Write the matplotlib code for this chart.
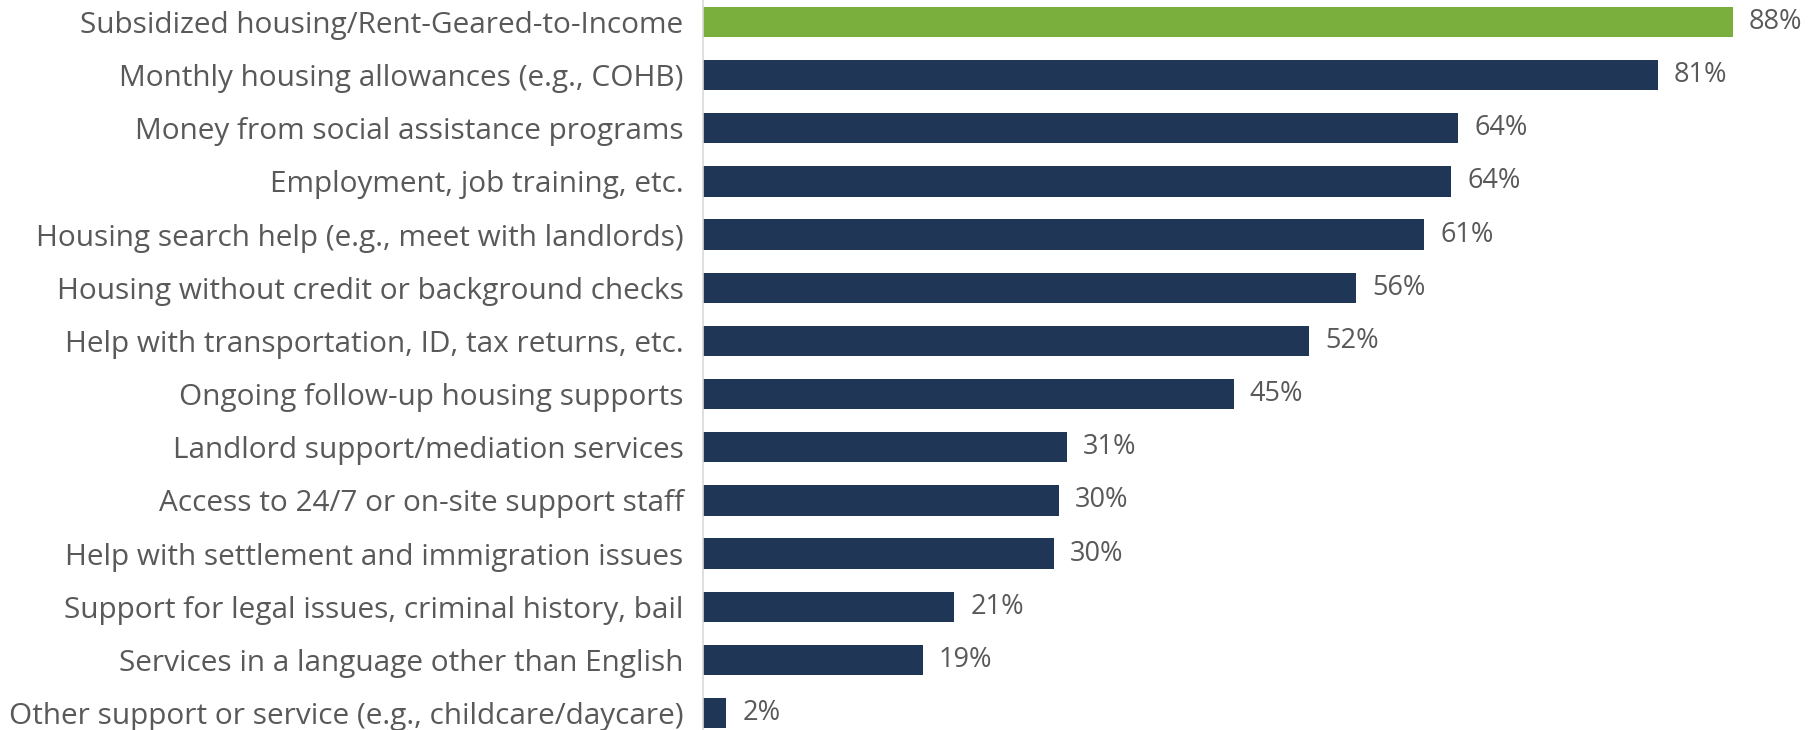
import matplotlib.pyplot as plt

# categorias y porcentajes (de arriba hacia abajo)
categorias = [
    "Subsidized housing/Rent-Geared-to-Income",
    "Monthly housing allowances (e.g., COHB)",
    "Money from social assistance programs",
    "Employment, job training, etc.",
    "Housing search help (e.g., meet with landlords)",
    "Housing without credit or background checks",
    "Help with transportation, ID, tax returns, etc.",
    "Ongoing follow-up housing supports",
    "Landlord support/mediation services",
    "Access to 24/7 or on-site support staff",
    "Help with settlement and immigration issues",
    "Support for legal issues, criminal history, bail",
    "Services in a language other than English",
    "Other support or service (e.g., childcare/daycare)",
]
valores = [87.7, 81.3, 64.3, 63.7, 61.4, 55.6, 51.6, 45.2, 31.0, 30.3, 29.9, 21.4, 18.7, 2.0]
etiquetas = ["88%", "81%", "64%", "64%", "61%", "56%", "52%", "45%", "31%", "30%", "30%", "21%", "19%", "2%"]

VERDE = "#7AAE3D"
AZUL = "#1F3657"
GRIS = "#595959"

plt.rcParams['font.family'] = ['Open Sans', 'DejaVu Sans']

fig = plt.figure(figsize=(18.13, 7.3), dpi=100)
ax = fig.add_axes([703 / 1813, 0, 1 - 703 / 1813, 1])

colores = [VERDE] + [AZUL] * (len(valores) - 1)
posiciones = list(range(len(categorias)))
ax.barh(posiciones, valores, height=0.57, color=colores)

for y, v, txt in zip(posiciones, valores, etiquetas):
    ax.text(v + 1.35, y, txt, va='center', ha='left', fontsize=19.5, color=GRIS)

ax.set_xlim(0, 94.5)
ax.set_ylim(13.32, -0.414)
ax.set_yticks(posiciones)
ax.set_yticklabels(categorias, fontsize=21.4, color=GRIS)
ax.tick_params(axis='y', length=0, pad=14)
ax.set_xticks([])

for lado in ['top', 'right', 'bottom']:
    ax.spines[lado].set_visible(False)
ax.spines['left'].set_color('#D9D9D9')
ax.spines['left'].set_linewidth(1.2)

plt.savefig('out.png', dpi=100)
